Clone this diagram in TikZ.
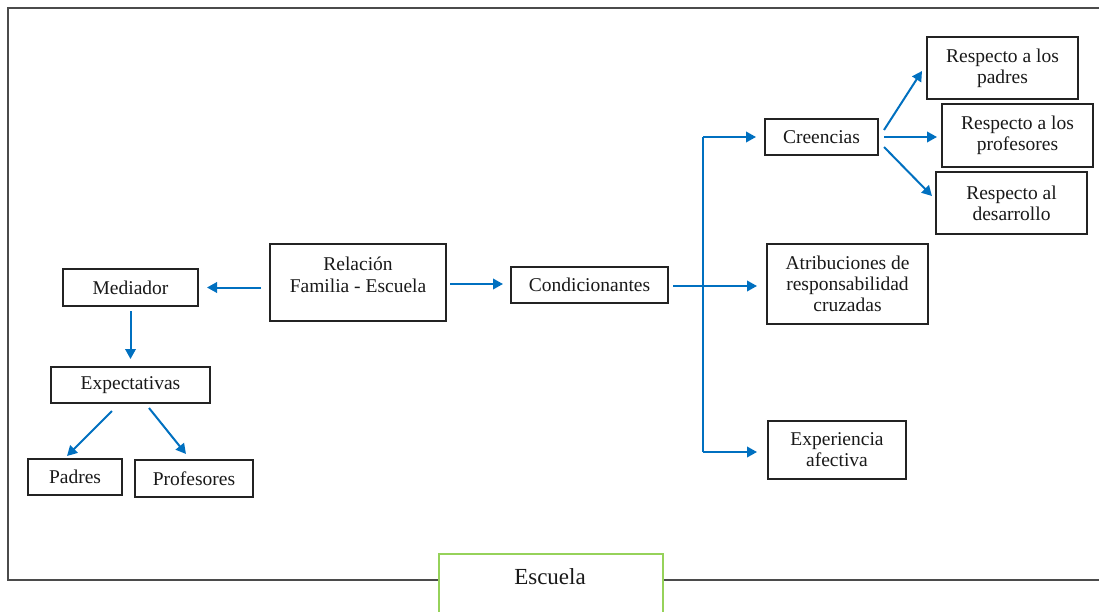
\documentclass[tikz,border=0pt]{standalone}
\usepackage{fontspec}
\setmainfont{Liberation Serif}
\usetikzlibrary{arrows.meta}
\definecolor{arrowblue}{RGB}{0,112,192}
\definecolor{framegray}{RGB}{75,75,75}
\definecolor{boxgray}{RGB}{35,35,35}
\definecolor{escgreen}{RGB}{150,210,90}
\tikzset{
  bx/.style={draw=boxgray, line width=2pt, fill=white, align=center, inner sep=0pt,
    font=\fontsize{19.5}{21}\selectfont, text=black!90},
  arr/.style={draw=arrowblue, line width=2pt, -{Triangle[length=10pt,width=10.5pt]}},
  ln/.style={draw=arrowblue, line width=2pt},
}
\newcommand{\boxat}[6]{% name, x1,y1,x2,y2, text
  \node[bx, minimum width=#4-#2, minimum height=#5-#3] (#1) at ({(#2+#4)/2},{(#3+#5)/2}) {#6};}
\begin{document}
\begin{tikzpicture}[x=1pt,y=-1pt]
\useasboundingbox (0,0) rectangle (1099,612);
\clip (0,0) rectangle (1099,612);
\fill[white] (0,0) rectangle (1099,612);
% outer frame (open at the right)
\draw[framegray, line width=2.3pt] (1110,8) -- (8,8) -- (8,580) -- (1110,580);
% boxes
\boxat{rel}{270}{244}{446}{321}{}
\node[font=\fontsize{19.5}{22.5}\selectfont, text=black!90, align=center, inner sep=0pt] (relt) at (358,275) {Relación\\Familia - Escuela};
\boxat{med}{63}{269}{198}{306}{Mediador}
\boxat{exp}{51}{367}{210}{403}{Expectativas}
\boxat{pad}{28}{459}{122}{495}{Padres}
\boxat{prof}{135}{460}{253}{497}{Profesores}
\boxat{cond}{511}{267}{668}{303}{Condicionantes}
\boxat{cre}{765}{119}{878}{155}{Creencias}
\boxat{rp}{927}{37}{1078}{99}{Respecto a los\\padres}
\boxat{rprof}{942}{104}{1093}{167}{Respecto a los\\profesores}
\boxat{rd}{936}{172}{1087}{234}{Respecto al\\desarrollo}
\boxat{atr}{767}{244}{928}{324}{Atribuciones de\\responsabilidad\\cruzadas}
\boxat{expa}{768}{421}{906}{479}{Experiencia\\afectiva}
% Escuela box
\node[draw=escgreen, line width=1.6pt, fill=white, minimum width=224pt, minimum height=80pt,
  anchor=north west, inner sep=0pt] (esc) at (438,553) {};
\node[font=\fontsize{23}{25}\selectfont, text=black!90] (esct) at (550,577) {Escuela};
% connectors
\draw[arr] ([xshift=-8pt]rel.west |- med.east) -- ([xshift=8pt]med.east);
\draw[arr] ([xshift=3pt]rel.east |- 0,284) -- ([xshift=-7pt]cond.west |- 0,284);
\draw[arr] ([yshift=-4pt]med.south) -- ([yshift=7pt]exp.north);
\coordinate (e1) at (112,411);
\coordinate (e2) at (149,408);
\draw[arr] (e1) -- (67,456) coordinate (p1);
\draw[arr] (e2) -- (186,454) coordinate (p2);
% bus
\coordinate (bt) at (703,137);
\coordinate (bb) at (703,452);
\draw[ln] (bt) -- (bb);
\draw[arr] (bt) -- ([xshift=-8pt]bt -| cre.west);
\draw[arr] ([xshift=4pt]cond.east |- 0,286) -- (757,286) coordinate (a1);
\draw[arr] (bb) -- ([xshift=-10pt]bb -| expa.west);
% creencias fan
\draw[arr] (884,130) -- (922,71) coordinate (c1);
\draw[arr] ([xshift=5pt]cre.east) -- ([xshift=-4pt]cre.east -| rprof.west);
\draw[arr] (884,147) -- (932,196) coordinate (c3);
\end{tikzpicture}
\end{document}
